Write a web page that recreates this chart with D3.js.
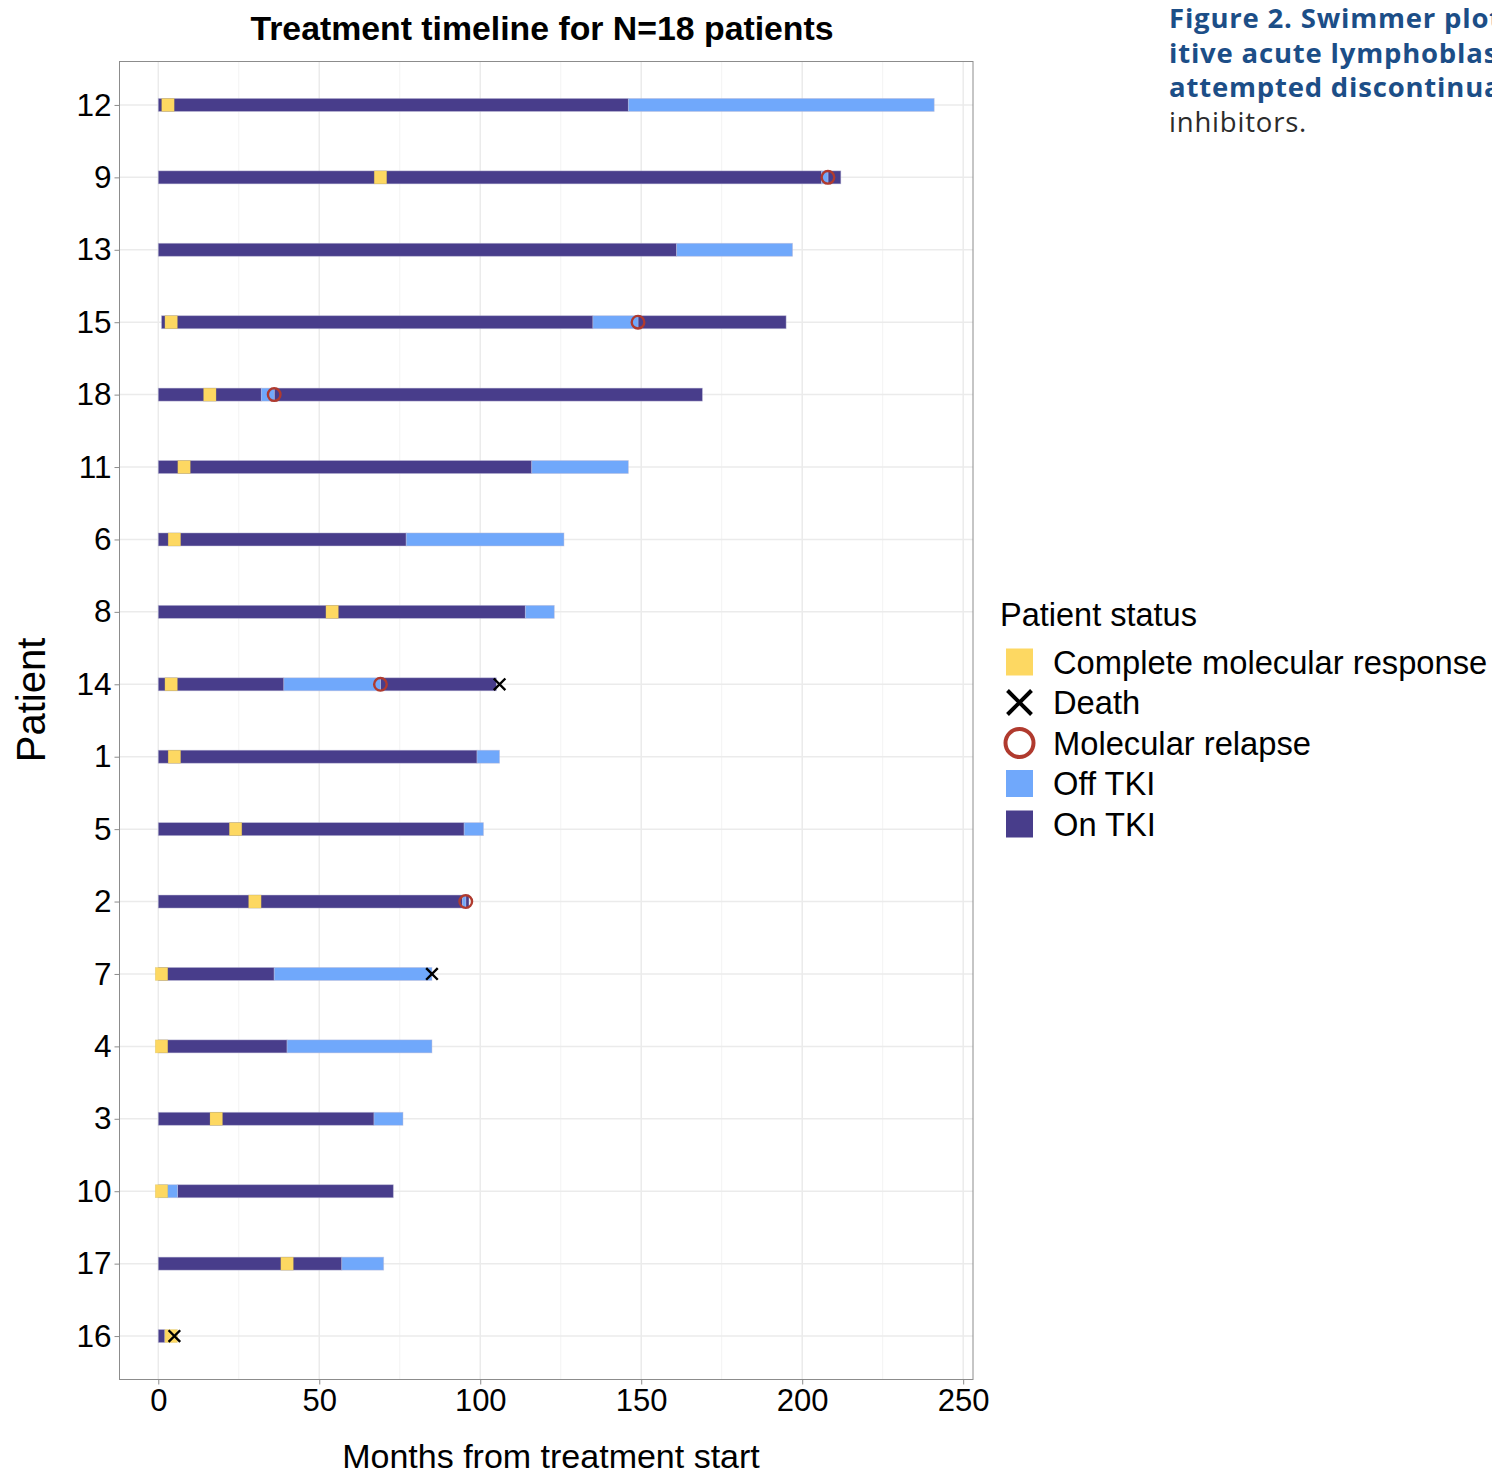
<!DOCTYPE html>
<html>
<head>
<meta charset="utf-8">
<script src="https://cdn.jsdelivr.net/npm/d3@7"></script>
<style>
  html, body { margin: 0; padding: 0; background: #fff; overflow: hidden; }
  svg { display: block; }
  .chart text { font-family: "Liberation Sans", Arial, Helvetica, sans-serif; fill: #000; }
  .caption text { font-family: "Open Sans", "Noto Sans", sans-serif; }
</style>
</head>
<body>
<svg id="chart" width="1492" height="1475"></svg>
<script>
// Patients, ordered by total follow-up (longest first)
const patients = ["12", "9", "13", "15", "18", "11", "6", "8", "14", "1", "5", "2", "7", "4", "3", "10", "17", "16"];

// Treatment periods: [patient, start month, end month]
const onTKI = [
  ["12", 0, 146], ["9", 0, 206], ["9", 208, 212], ["13", 0, 161],
  ["15", 1, 135], ["15", 149, 195], ["18", 0, 32], ["18", 36, 169],
  ["11", 0, 116], ["6", 0, 77], ["8", 0, 114], ["14", 0, 39], ["14", 69, 105],
  ["1", 0, 99], ["5", 0, 95], ["2", 0, 94.5], ["2", 95.5, 96.5],
  ["7", 0, 36], ["4", 0, 40], ["3", 0, 67], ["10", 6, 73], ["17", 0, 57], ["16", 0, 2]
];
const offTKI = [
  ["12", 146, 241], ["9", 206, 208], ["13", 161, 197], ["15", 135, 149],
  ["18", 32, 36], ["11", 116, 146], ["6", 77, 126], ["8", 114, 123],
  ["14", 39, 69], ["1", 99, 106], ["5", 95, 101], ["2", 94.5, 95.5],
  ["7", 36, 85], ["4", 40, 85], ["3", 67, 76], ["10", 0, 6], ["17", 57, 70]
];

// Events: [patient, month]
const completeResponse = [
  ["12", 3], ["9", 69], ["15", 4], ["18", 16], ["11", 8], ["6", 5], ["8", 54],
  ["14", 4], ["1", 5], ["5", 24], ["2", 30], ["7", 1], ["4", 1], ["3", 18],
  ["10", 1], ["17", 40], ["16", 4]
];
const relapse = [["9", 208], ["15", 149], ["18", 36], ["14", 69], ["2", 95.5]];
const death = [["14", 106], ["7", 85], ["16", 5]];

const xTicks = [0, 50, 100, 150, 200, 250];
const xMinorTicks = [25, 75, 125, 175, 225];

const legendItems = ["Complete molecular response", "Death", "Molecular relapse", "Off TKI", "On TKI"];

const colors = {
  cmr: "#fdd862",
  off: "#70a8fb",
  on: "#483d8b",
  relapse: "#b03a2e",
  death: "#000000"
};

const captionBold = [
  "Figure 2. Swimmer plot of patients with Philadelphia chromosome-pos-",
  "itive acute lymphoblastic leukemia who underwent an",
  "attempted discontinuation of tyrosine kinase"
];
const captionRegular = "inhibitors.";

// ---- layout
const panel = { left: 119.5, right: 973, top: 61.5, bottom: 1379.5 };
const barH = 13;

const svg = d3.select("#chart");
const g = svg.append("g").attr("class", "chart");

const dataMax = d3.max(offTKI.concat(onTKI), d => d[2]);
const pad = dataMax * 0.05;
const x = d3.scaleLinear().domain([-pad, dataMax + pad]).range([panel.left, panel.right]);
const y = d3.scalePoint().domain(patients).range([panel.top, panel.bottom]).padding(0.6);

// panel background and grid
g.append("rect")
  .attr("x", panel.left).attr("y", panel.top)
  .attr("width", panel.right - panel.left).attr("height", panel.bottom - panel.top)
  .attr("fill", "#fff");

g.append("g").selectAll("line").data(xMinorTicks).join("line")
  .attr("x1", d => x(d)).attr("x2", d => x(d))
  .attr("y1", panel.top).attr("y2", panel.bottom)
  .attr("stroke", "#f3f3f3").attr("stroke-width", 1);

g.append("g").selectAll("line").data(xTicks).join("line")
  .attr("x1", d => x(d)).attr("x2", d => x(d))
  .attr("y1", panel.top).attr("y2", panel.bottom)
  .attr("stroke", "#ebebeb").attr("stroke-width", 1.5);

g.append("g").selectAll("line").data(patients).join("line")
  .attr("x1", panel.left).attr("x2", panel.right)
  .attr("y1", d => y(d)).attr("y2", d => y(d))
  .attr("stroke", "#ebebeb").attr("stroke-width", 1.5);

// treatment bars
function drawSegments(data, fill) {
  g.append("g").selectAll("rect").data(data).join("rect")
    .attr("x", d => x(d[1]))
    .attr("width", d => x(d[2]) - x(d[1]))
    .attr("y", d => y(d[0]) - barH / 2)
    .attr("height", barH)
    .attr("fill", fill)
    .attr("stroke", "rgba(190,188,215,0.55)")
    .attr("stroke-width", 0.8);
}
drawSegments(onTKI, colors.on);
drawSegments(offTKI, colors.off);

// complete molecular response squares
const sq = 12.5;
g.append("g").selectAll("rect").data(completeResponse).join("rect")
  .attr("x", d => x(d[1]) - sq / 2)
  .attr("y", d => y(d[0]) - barH / 2)
  .attr("width", sq).attr("height", barH)
  .attr("fill", colors.cmr)
  .attr("stroke", "rgba(200,180,90,0.4)").attr("stroke-width", 0.6);

// molecular relapse rings
g.append("g").selectAll("circle").data(relapse).join("circle")
  .attr("cx", d => x(d[1])).attr("cy", d => y(d[0]))
  .attr("r", 6.3)
  .attr("fill", "none")
  .attr("stroke", colors.relapse).attr("stroke-width", 2.4);

// deaths
const crossPath = s => `M${-s},${-s}L${s},${s}M${-s},${s}L${s},${-s}`;
g.append("g").selectAll("path").data(death).join("path")
  .attr("transform", d => `translate(${x(d[1])},${y(d[0])})`)
  .attr("d", crossPath(5.8))
  .attr("stroke", colors.death).attr("stroke-width", 2.4).attr("fill", "none");

// panel border
g.append("rect")
  .attr("x", panel.left).attr("y", panel.top)
  .attr("width", panel.right - panel.left).attr("height", panel.bottom - panel.top)
  .attr("fill", "none").attr("stroke", "#8c8c8c").attr("stroke-width", 1);

// axes
const xAxis = g.append("g")
  .attr("transform", `translate(0,${panel.bottom})`)
  .call(d3.axisBottom(x).tickValues(xTicks).tickSize(5).tickPadding(4));
xAxis.select(".domain").remove();
xAxis.selectAll(".tick line").attr("stroke", "#8c8c8c").attr("stroke-width", 1);
xAxis.selectAll(".tick text").attr("font-size", 31).attr("fill", "#000")
  .style("font-family", "'Liberation Sans', Arial, sans-serif");

const yAxis = g.append("g")
  .attr("transform", `translate(${panel.left},0)`)
  .call(d3.axisLeft(y).tickSize(5).tickPadding(3));
yAxis.select(".domain").remove();
yAxis.selectAll(".tick line").attr("stroke", "#8c8c8c").attr("stroke-width", 1);
yAxis.selectAll(".tick text").attr("font-size", 31.5).attr("fill", "#000")
  .style("font-family", "'Liberation Sans', Arial, sans-serif");

// titles
g.append("text")
  .attr("x", 542).attr("y", 40)
  .attr("text-anchor", "middle")
  .attr("font-size", 33.8).attr("font-weight", "bold")
  .text("Treatment timeline for N=18 patients");

g.append("text")
  .attr("x", 551).attr("y", 1468)
  .attr("text-anchor", "middle")
  .attr("font-size", 34)
  .text("Months from treatment start");

g.append("text")
  .attr("transform", "translate(45,700) rotate(-90)")
  .attr("text-anchor", "middle")
  .attr("font-size", 40)
  .text("Patient");

// legend
const legend = g.append("g").attr("transform", "translate(1000,0)");
legend.append("text")
  .attr("x", 0).attr("y", 626)
  .attr("font-size", 32.5)
  .text("Patient status");

const ly = d3.scalePoint().domain(legendItems).range([662, 824]);
const keyCx = 19.5;
const item = legend.selectAll("g.item").data(legendItems).join("g")
  .attr("class", "item")
  .attr("transform", d => `translate(0,${ly(d)})`);

item.append("text")
  .attr("x", 53).attr("dy", "0.36em")
  .attr("font-size", 32.7)
  .text(d => d);

item.each(function (d) {
  const k = d3.select(this);
  if (d === "Complete molecular response" || d === "Off TKI" || d === "On TKI") {
    const fill = d === "Complete molecular response" ? colors.cmr : d === "Off TKI" ? colors.off : colors.on;
    k.append("rect")
      .attr("x", keyCx - 13.5).attr("y", -13.5)
      .attr("width", 27).attr("height", 27)
      .attr("fill", fill);
  } else if (d === "Death") {
    k.append("path")
      .attr("transform", `translate(${keyCx},0)`)
      .attr("d", crossPath(12))
      .attr("stroke", colors.death).attr("stroke-width", 4).attr("fill", "none");
  } else {
    k.append("circle")
      .attr("cx", keyCx).attr("cy", 0).attr("r", 14)
      .attr("fill", "none")
      .attr("stroke", colors.relapse).attr("stroke-width", 4);
  }
});

// figure caption (runs past the right edge of the page)
const cap = svg.append("g").attr("class", "caption").attr("transform", "translate(1169,0)");
cap.selectAll("text.b").data(captionBold).join("text")
  .attr("class", "b")
  .attr("x", 0).attr("y", (d, i) => 28 + i * 34.5)
  .attr("font-size", 27.5).attr("font-weight", 700)
  .attr("letter-spacing", 0.8)
  .attr("fill", "#1c4e87")
  .text(d => d);
cap.append("text")
  .attr("x", 0).attr("y", 28 + 3 * 34.5)
  .attr("font-size", 27.5).attr("font-weight", 400)
  .attr("letter-spacing", 0.8)
  .attr("fill", "#2b2b2b")
  .text(captionRegular);
</script>
</body>
</html>
